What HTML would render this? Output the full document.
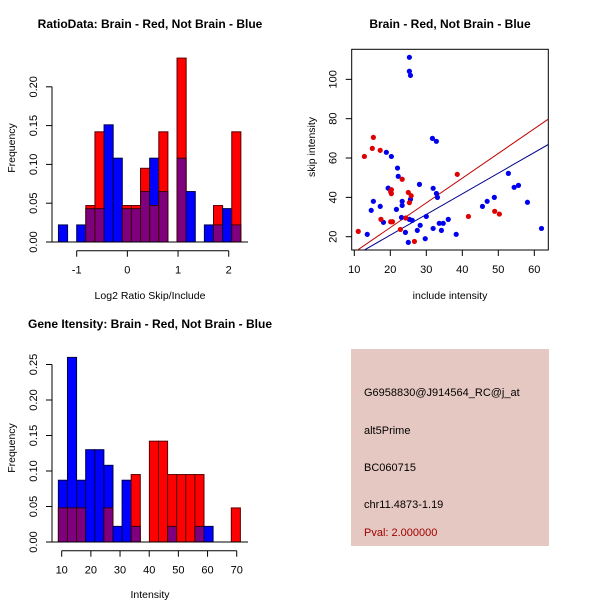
<!DOCTYPE html>
<html><head><meta charset="utf-8"><style>
body{margin:0;background:#fff;width:600px;height:600px;overflow:hidden}
svg{font-family:"Liberation Sans",sans-serif}
</style></head><body>
<svg id="s" width="600" height="600" xmlns="http://www.w3.org/2000/svg">
<g font-weight="bold" font-size="12" text-anchor="middle">
<text x="150" y="28">RatioData: Brain - Red, Not Brain - Blue</text>
<text x="450" y="28">Brain - Red, Not Brain - Blue</text>
<text x="150" y="328">Gene Itensity: Brain - Red, Not Brain - Blue</text>
</g>
<g font-size="10.5" text-anchor="middle">
<text x="150" y="299">Log2 Ratio Skip/Include</text>
<text transform="translate(15,148) rotate(-90)">Frequency</text>
<text x="450" y="299">include intensity</text>
<text transform="translate(315,147) rotate(-90)">skip intensity</text>
<text x="150" y="598">Intensity</text>
<text transform="translate(15,448) rotate(-90)">Frequency</text>
</g>
<g>
<rect x="351" y="349" width="198" height="197" fill="#e6c8c2"/>
<g font-size="11">
<text x="364" y="396">G6958830@J914564_RC@j_at</text>
<text x="364" y="434">alt5Prime</text>
<text x="364" y="471">BC060715</text>
<text x="364" y="508">chr11.4873-1.19</text>
<text x="364" y="536" fill="#a00000">Pval: 2.000000</text>
</g></g>
<g id="g1"></g>
<g id="g2"></g>
<g id="g3"></g>
</svg>
<script>
// Ratio histogram data
const ratioStart = -1.36, ratioWidth = 0.18;
const ratioBlue = [0.022,0,0.022,0.043,0.043,0.151,0.108,0.043,0.043,0.065,0.108,0.065,0,0.108,0.065,0,0.022,0.022,0.043,0.022];
const ratioRed  = [0,0,0,0.047,0.142,0,0,0.047,0.047,0.095,0.047,0.142,0,0.237,0,0,0,0.047,0,0.142];
const ratioXTicks = [-1,0,1,2];
const ratioYTicks = ["0.00","0.05","0.10","0.15","0.20"];
// Intensity histogram data
const intStart = 8.86, intWidth = 3.12;
const intBlue = [0.087,0.26,0.087,0.13,0.13,0.108,0.022,0.087,0.022,0,0,0,0.022,0,0,0.022,0.022,0,0,0];
const intRed  = [0.048,0.048,0.048,0,0,0.048,0,0,0.095,0,0.142,0.142,0.095,0.095,0.095,0.095,0,0,0,0.048];
const intXTicks = [10,20,30,40,50,60,70];
const intYTicks = ["0.00","0.05","0.10","0.15","0.20","0.25"];
// Scatter data
const redX = [11.1,12.8,15.0,15.3,17.2,17.4,20.1,20.3,20.3,20.1,20.6,22.8,23.3,24.3,25.0,25.3,25.8,26.7,38.6,41.7,49.0,50.3];
const redY = [22.7,60.8,64.9,70.5,63.9,28.8,27.6,41.9,43.9,42.9,27.6,23.7,49.2,29.5,42.5,37.3,40.8,17.6,51.7,30.3,32.9,31.5];
const blueX = [13.6,14.7,15.3,17.2,18.1,18.9,19.4,20.3,21.7,22.0,22.2,23.1,23.3,23.3,24.2,25.0,25.3,25.3,25.6,25.3,25.6,26.1,27.5,28.1,28.3,29.7,30.0,31.7,31.9,31.9,32.8,32.8,33.1,33.6,34.2,34.7,36.1,38.3,45.6,46.9,48.9,52.8,54.4,55.6,58.1,62.0];
const blueY = [21.2,33.4,38.0,35.4,27.3,62.9,44.7,60.8,33.9,54.9,50.7,29.8,35.9,38.0,22.2,17.1,111.2,104.1,102.0,28.8,39.0,28.3,23.2,46.6,25.8,19.0,30.3,70.0,24.2,44.6,68.5,42.0,40.0,26.8,23.2,26.8,28.8,21.2,35.4,38.0,40.0,52.2,45.1,46.1,37.5,24.2];
const redFit = [1.256,-0.47];   // slope, intercept
const blueFit = [1.05,-0.2];
const scXTicks = [10,20,30,40,50,60];
const scYTicks = [20,40,60,80,100];

const NS="http://www.w3.org/2000/svg";
function mk(p,t,a){const e=document.createElementNS(NS,t);for(const k in a)e.setAttribute(k,a[k]);p.appendChild(e);return e;}

function hist(g,start,w,blue,red,xt,yt,xs,ys,axisY,xMin,xMax,baseR){
  const n=blue.length;
  for(let i=0;i<n;i++){
    const b=blue[i],r=red[i];
    const x0=xs(start+i*w),x1=xs(start+(i+1)*w);
    const hi=Math.max(b,r),lo=Math.min(b,r);
    if(hi>0){
      const e=mk(g,'rect',{x:x0,y:ys(hi),width:x1-x0,height:ys(0)-ys(hi),fill:b>=r?'#0000ff':'#ff0000',stroke:b>=r?'#00004a':'#5a0000','stroke-width':1});
      
      
    }
    if(lo>0){
      const e=mk(g,'rect',{x:x0,y:ys(lo),width:x1-x0,height:ys(0)-ys(lo),fill:'#7f007f',stroke:'#3a0000','stroke-width':1});
      
      
    }
  }
  const bl=mk(g,'line',{x1:52,x2:baseR,y1:ys(0),y2:ys(0),stroke:'#000'});
  
  
  const ya=mk(g,'line',{x1:52,x2:52,y1:ys(0),y2:ys(parseFloat(yt[yt.length-1])),stroke:'#000'});
  
  
  yt.forEach(t=>{const v=parseFloat(t),y=ys(v);
    mk(g,'line',{x1:46,x2:52,y1:y,y2:y,stroke:'#000'});
    const tx=mk(g,'text',{transform:`translate(37,${y}) rotate(-90)`,'text-anchor':'middle','font-size':11});
    tx.textContent=t;
    
    
  });
  const xa=mk(g,'line',{x1:xs(xMin),x2:xs(xMax),y1:axisY,y2:axisY,stroke:'#000'});
  
  
  xt.forEach(v=>{const x=xs(v);
    mk(g,'line',{x1:x,x2:x,y1:axisY,y2:axisY+6,stroke:'#000'});
    const tx=mk(g,'text',{x:x,y:axisY+23,'text-anchor':'middle','font-size':11});
    tx.textContent=v;
    
    
  });
}
// ratio
hist(document.getElementById('g1'),ratioStart,ratioWidth,ratioBlue,ratioRed,ratioXTicks,ratioYTicks,
  v=>76.7+(v+1)*50.67, v=>242-v*776, 250.7,-1,2,248);
// intensity
hist(document.getElementById('g3'),intStart,intWidth,intBlue,intRed,intXTicks,intYTicks,
  v=>61.7+(v-10)*2.917, v=>542-v*710, 550.7,10,70,248);

// scatter
(function(){
  const g=document.getElementById('g2');
  const xs=v=>354.3+(v-10)*3.6, ys=v=>236.7-(v-20)*1.967;
  const L=351.7,R=548.3,T=49.3,B=250;
  const fr=mk(g,'rect',{x:L,y:T,width:R-L,height:B-T,fill:'none',stroke:'#000'});
  
  
  const clip=mk(g,'clipPath',{id:'cp'});mk(clip,'rect',{x:L,y:T,width:R-L,height:B-T});
  const inner=mk(g,'g',{'clip-path':'url(#cp)'});
  const x0=9.28,x1=63.9;
  [[redFit,'#c00000','red-fit-line'],[blueFit,'#00008b','blue-fit-line']].forEach(([f,c,n])=>{
    const e=mk(inner,'line',{x1:xs(x0),y1:ys(f[0]*x0+f[1]),x2:xs(x1),y2:ys(f[0]*x1+f[1]),stroke:c,'stroke-width':1});
    
    
  });
  blueX.forEach((x,i)=>{const e=mk(inner,'circle',{cx:xs(x),cy:ys(blueY[i]),r:2.6,fill:'#0000ee'});
    
    });
  redX.forEach((x,i)=>{const e=mk(inner,'circle',{cx:xs(x),cy:ys(redY[i]),r:2.6,fill:'#e00000'});
    
    });
  scXTicks.forEach(v=>{const x=xs(v);
    mk(g,'line',{x1:x,x2:x,y1:B,y2:B+6,stroke:'#000'});
    const t=mk(g,'text',{x:x,y:B+23,'text-anchor':'middle','font-size':11});t.textContent=v;
    
    });
  scYTicks.forEach(v=>{const y=ys(v);
    mk(g,'line',{x1:L-6,x2:L,y1:y,y2:y,stroke:'#000'});
    const t=mk(g,'text',{transform:`translate(${L-15},${y}) rotate(-90)`,'text-anchor':'middle','font-size':11});t.textContent=v;
    
    });
})();
</script>
</body></html>
